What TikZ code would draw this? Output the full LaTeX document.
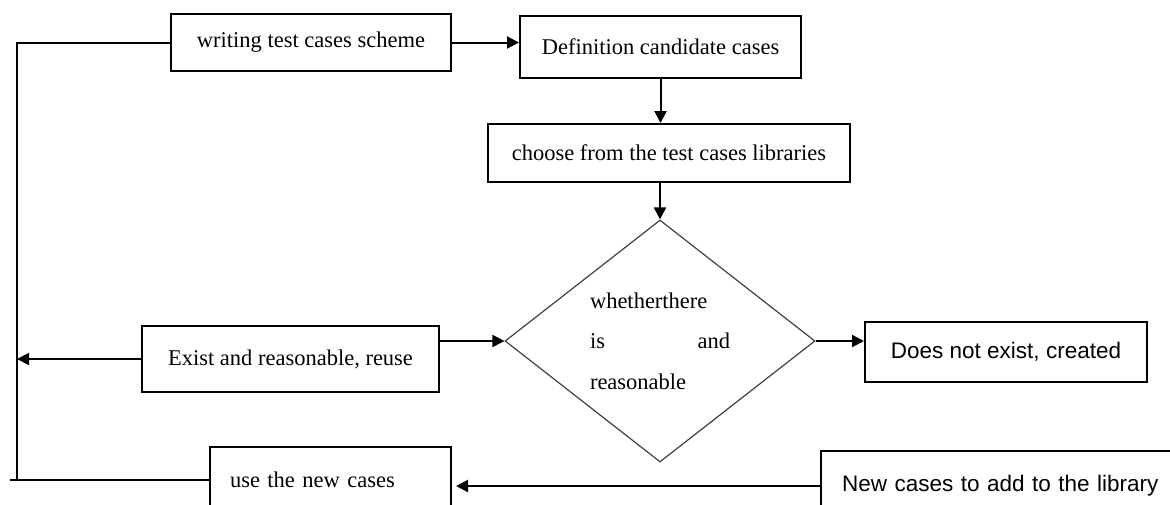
\documentclass[tikz,border=0pt]{standalone}
\usepackage{fontspec}
\setmainfont{Liberation Serif}
\newfontfamily\boxsans{Liberation Sans}
\usetikzlibrary{shapes.geometric,arrows.meta}

\begin{document}
\begin{tikzpicture}[x=0.5pt,y=-0.5pt]
	\tikzstyle{box}=[draw,line width=1pt,inner sep=0pt,font=\fontsize{11.25}{13.5}\selectfont]
	\tikzstyle{leftbox}=[box,align=left,inner xsep=10pt]
	\tikzstyle{decision}=[draw=black!75,diamond,line width=0.6pt,inner sep=0pt,font=\fontsize{11.25}{13.5}\selectfont]
	\tikzstyle{edge}=[draw,line width=1pt,black]
	\tikzstyle{arrow}=[edge,-{Triangle[length=6pt,width=6pt]}]
	
	\useasboundingbox (0,0) rectangle (1170,504);
	\clip (0,0) rectangle (1170,504);
	
	\node[box, minimum width=140pt, minimum height=28.5pt] (wrt) at (311,42.5) {writing test cases scheme};
	\node[box, minimum width=140.5pt, minimum height=31pt] (def) at (660.5,47) {Definition candidate cases};
	\node[box, minimum width=181pt, minimum height=29pt] (choose) at (669,153) {choose from the test cases libraries};
	\node[decision, minimum width=155pt, minimum height=121pt] (dia) at (660,341) {\parbox{70pt}{whetherthere\\[6.75pt] is\hfill and\\[6.75pt] reasonable}};
	\node[box, minimum width=148.5pt, minimum height=33pt] (exist) at (290.5,359) {Exist and reasonable, reuse};
	\node[box, font=\boxsans\fontsize{11.25}{13.5}\selectfont, minimum width=141pt, minimum height=30pt] (dne) at (1006,352) {Does not exist, created};
	\node[leftbox, text width=100.5pt, minimum height=33pt] (use) at (330.5,480) {use the new cases};
	\node[leftbox, font=\boxsans\fontsize{11.25}{13.5}\selectfont, inner xsep=10.5pt, text width=163.5pt, minimum height=35pt] (newc) at (1005.5,486) {New cases to add to the library};
	
	\coordinate (rail) at (17,41);
	\coordinate (bl) at (10,480);
	
	% loop back to the start
	\draw[edge] (wrt.west) -- (wrt.west -| rail) -- (rail |- use.west);
	\draw[edge] (bl) -- (use.west);
	
	\draw[arrow] (wrt.east) -- (wrt.east -| def.west);
	\draw[arrow] (def.south) -- (def.south |- choose.north);
	\draw[arrow] (choose.south -| dia.north) -- (dia.north);
	\draw[arrow] (exist.east |- dia.west) -- (dia.west);
	\draw[arrow] (exist.west) -- (exist.west -| rail);
	\draw[arrow] (dia.east) -- (dia.east -| dne.west);
	\draw[arrow, shorten >=2pt] (newc.west) -- (newc.west -| use.east);
\end{tikzpicture}
\end{document}
